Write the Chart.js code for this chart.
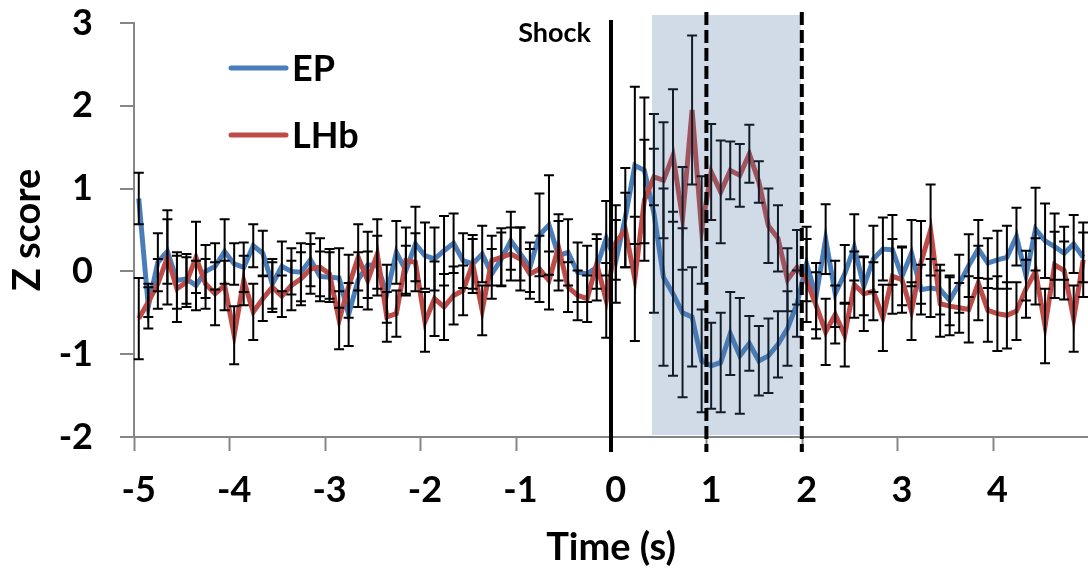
<!DOCTYPE html>
<html lang="en">
<head>
    <meta charset="UTF-8">
    <title>EP and LHb response to shock</title>
    <script src="https://cdn.jsdelivr.net/npm/chart.js"></script>
    <style>
        html, body {
            margin: 0;
            padding: 0;
            background: #ffffff;
        }
        #wrap {
            width: 1088px;
            height: 576px;
        }
    </style>
</head>
<body>
    <div id="wrap"><canvas id="zChart" width="1088" height="576"></canvas></div>

    <script>
        // time of each 100 ms bin (s), shock delivered at 0
        const times = [
            -5.0, -4.9, -4.8, -4.7, -4.6, -4.5, -4.4, -4.3, -4.2, -4.1,
            -4.0, -3.9, -3.8, -3.7, -3.6, -3.5, -3.4, -3.3, -3.2, -3.1,
            -3.0, -2.9, -2.8, -2.7, -2.6, -2.5, -2.4, -2.3, -2.2, -2.1,
            -2.0, -1.9, -1.8, -1.7, -1.6, -1.5, -1.4, -1.3, -1.2, -1.1,
            -1.0, -0.9, -0.8, -0.7, -0.6, -0.5, -0.4, -0.3, -0.2, -0.1,
            0.0, 0.1, 0.2, 0.3, 0.4, 0.5, 0.6, 0.7, 0.8, 0.9,
            1.0, 1.1, 1.2, 1.3, 1.4, 1.5, 1.6, 1.7, 1.8, 1.9,
            2.0, 2.1, 2.2, 2.3, 2.4, 2.5, 2.6, 2.7, 2.8, 2.9,
            3.0, 3.1, 3.2, 3.3, 3.4, 3.5, 3.6, 3.7, 3.8, 3.9,
            4.0, 4.1, 4.2, 4.3, 4.4, 4.5, 4.6, 4.7, 4.8, 4.9
        ];

        // mean z score, EP
        const epZ = [
            0.88, -0.42, 0.11, 0.24, -0.11, -0.09, -0.17, 0.00, 0.06, 0.24,
            0.09, 0.05, 0.31, 0.22, -0.15, 0.06, 0.00, -0.01, 0.14, -0.06,
            -0.07, -0.08, -0.52, -0.10, 0.08, 0.07, -0.27, 0.23, 0.01, 0.33,
            0.19, 0.15, 0.25, 0.34, 0.13, 0.09, 0.21, -0.03, 0.15, 0.37,
            0.21, 0.05, 0.44, 0.56, 0.19, 0.23, -0.01, -0.03, 0.05, 0.40,
            0.12, 0.65, 1.28, 1.22, 0.70, -0.07, -0.27, -0.50, -0.55, -1.08,
            -1.14, -1.10, -0.75, -1.02, -0.87, -1.08, -1.02, -0.88, -0.69, -0.39,
            0.09, -0.30, 0.39, -0.27, -0.03, 0.29, -0.18, 0.15, 0.27, 0.26,
            -0.06, 0.22, -0.22, -0.20, -0.22, -0.35, -0.15, 0.07, 0.27, 0.10,
            0.14, 0.17, 0.42, -0.05, 0.51, 0.37, 0.30, 0.22, 0.33, 0.17
        ];

        // mean z score, LHb
        const lhbZ = [
            -0.57, -0.37, -0.15, 0.17, -0.21, -0.13, 0.17, -0.15, -0.27, -0.17,
            -0.77, -0.11, -0.49, -0.33, -0.19, -0.30, -0.17, -0.09, 0.03, 0.05,
            -0.03, -0.59, -0.18, 0.17, -0.11, 0.21, -0.55, -0.51, 0.13, 0.11,
            -0.61, -0.33, -0.43, -0.29, -0.23, 0.09, -0.47, 0.13, 0.17, 0.21,
            0.15, -0.03, 0.03, -0.11, 0.29, -0.19, -0.29, -0.33, 0.09, -0.35,
            0.35, 0.50, -0.09, 0.86, 1.14, 1.10, 1.40, 0.64, 1.95, 0.50,
            1.20, 0.96, 1.22, 1.16, 1.42, 1.08, 0.55, 0.40, -0.10, 0.05,
            -0.11, -0.41, -0.73, -0.52, -0.77, -0.16, -0.27, -0.24, -0.56, -0.06,
            -0.10, -0.48, 0.11, 0.50, -0.39, -0.42, -0.44, -0.46, -0.14, -0.47,
            -0.51, -0.53, -0.48, -0.21, 0.00, -0.66, 0.08, 0.01, -0.57, 0.14
        ];

        // SEM for each bin
        const epErr = [
            0.31, 0.27, 0.35, 0.39, 0.34, 0.30, 0.30, 0.32, 0.28, 0.39,
            0.25, 0.30, 0.26, 0.27, 0.30, 0.30, 0.28, 0.35, 0.32, 0.30,
            0.30, 0.36, 0.38, 0.33, 0.40, 0.36, 0.35, 0.38, 0.30, 0.45,
            0.40, 0.38, 0.42, 0.36, 0.33, 0.30, 0.34, 0.30, 0.32, 0.35,
            0.32, 0.30, 0.50, 0.60, 0.42, 0.40, 0.36, 0.34, 0.40, 0.45,
            0.50, 0.60, 0.95, 0.88, 1.20, 1.07, 0.99, 1.02, 0.60, 0.62,
            0.52, 0.60, 0.50, 0.70, 0.33, 0.42, 0.45, 0.40, 0.45, 0.40,
            0.45, 0.40, 0.42, 0.40, 0.35, 0.40, 0.35, 0.40, 0.38, 0.42,
            0.35, 0.40, 0.30, 0.35, 0.30, 0.30, 0.35, 0.38, 0.35, 0.30,
            0.35, 0.38, 0.35, 0.30, 0.50, 0.45, 0.40, 0.32, 0.35, 0.30
        ];

        const lhbErr = [
            0.49, 0.18, 0.30, 0.57, 0.40, 0.30, 0.43, 0.30, 0.38, 0.30,
            0.35, 0.30, 0.34, 0.27, 0.30, 0.25, 0.30, 0.32, 0.30, 0.35,
            0.30, 0.35, 0.38, 0.40, 0.35, 0.42, 0.30, 0.28, 0.40, 0.35,
            0.36, 0.45, 0.40, 0.35, 0.30, 0.35, 0.30, 0.30, 0.35, 0.32,
            0.38, 0.30, 0.40, 0.35, 0.40, 0.30, 0.30, 0.28, 0.30, 0.45,
            0.45, 0.45, 0.75, 0.73, 0.34, 0.70, 0.80, 0.62, 0.90, 0.65,
            0.58, 0.62, 0.35, 0.38, 0.35, 0.25, 0.45, 0.40, 0.38, 0.45,
            0.50, 0.40, 0.40, 0.35, 0.38, 0.40, 0.45, 0.35, 0.40, 0.45,
            0.40, 0.35, 0.50, 0.55, 0.40, 0.35, 0.30, 0.40, 0.45, 0.38,
            0.45, 0.40, 0.35, 0.35, 0.40, 0.45, 0.40, 0.35, 0.40, 0.45
        ];

        const xTicks = [-5, -4, -3, -2, -1, 0, 1, 2, 3, 4];
        const yTicks = [-2, -1, 0, 1, 2, 3];

        // event markers (s): shock onset and the analysis window edges
        const shockAt = 0;
        const windowMarks = [1, 2];
        const shadeFrom = 0.38;
        const shadeTo = 1.94;

        const binHalf = 0.05;
        const fontFamily = 'Lato, "Open Sans", sans-serif';
        const epColor = '#4a7ebb';
        const lhbColor = '#be4b48';
        const axisGray = '#868686';

        const toPoints = vals => times.map((t, i) => ({ x: t, y: vals[i] }));

        const overlay = {
            id: 'overlay',
            afterDatasetsDraw(chart) {
                const { ctx, scales: { x, y } } = chart;
                ctx.save();
                ctx.strokeStyle = '#000000';
                ctx.lineWidth = 2;
                [[epZ, epErr], [lhbZ, lhbErr]].forEach(([vals, errs]) => {
                    vals.forEach((v, i) => {
                        const px = x.getPixelForValue(times[i]);
                        const top = y.getPixelForValue(v + errs[i]);
                        const bot = y.getPixelForValue(v - errs[i]);
                        ctx.beginPath();
                        ctx.moveTo(px, top);
                        ctx.lineTo(px, bot);
                        ctx.moveTo(px - 5, top);
                        ctx.lineTo(px + 5, top);
                        ctx.moveTo(px - 5, bot);
                        ctx.lineTo(px + 5, bot);
                        ctx.stroke();
                    });
                });
                ctx.restore();
            },
            afterDraw(chart) {
                const { ctx, scales: { x, y } } = chart;
                const yTop = y.getPixelForValue(3);
                const yBottom = y.bottom;
                ctx.save();

                // tick marks on bin edges
                ctx.strokeStyle = axisGray;
                ctx.lineWidth = 2;
                xTicks.forEach(k => {
                    const px = Math.round(x.getPixelForValue(k - binHalf)) + 0.5;
                    ctx.beginPath();
                    ctx.moveTo(px, yBottom);
                    ctx.lineTo(px, yBottom + 14);
                    ctx.stroke();
                });

                // shaded response window
                const sx0 = x.getPixelForValue(shadeFrom);
                const sx1 = x.getPixelForValue(shadeTo);
                ctx.fillStyle = 'rgba(70, 110, 160, 0.25)';
                ctx.fillRect(sx0, yTop - 8, sx1 - sx0, yBottom - 2 - (yTop - 8));

                // shock onset
                const shockX = x.getPixelForValue(shockAt - binHalf);
                ctx.strokeStyle = '#000000';
                ctx.lineWidth = 4;
                ctx.beginPath();
                ctx.moveTo(shockX, yTop - 3);
                ctx.lineTo(shockX, yBottom + 15);
                ctx.stroke();

                ctx.setLineDash([13, 5]);
                windowMarks.forEach(t => {
                    const px = x.getPixelForValue(t - binHalf);
                    ctx.beginPath();
                    ctx.moveTo(px, yTop - 11);
                    ctx.lineTo(px, yBottom + 15);
                    ctx.stroke();
                });
                ctx.setLineDash([]);

                ctx.fillStyle = '#000000';
                ctx.font = 'bold 27px ' + fontFamily;
                ctx.textAlign = 'right';
                ctx.textBaseline = 'middle';
                ctx.fillText('Shock', shockX - 20, yTop + 10);

                // legend
                const legendX = chart.chartArea.left + 97;
                [['EP', epColor, 68], ['LHb', lhbColor, 135]].forEach(([name, color, ly]) => {
                    ctx.strokeStyle = color;
                    ctx.lineWidth = 5;
                    ctx.lineCap = 'round';
                    ctx.beginPath();
                    ctx.moveTo(legendX, ly);
                    ctx.lineTo(legendX + 55, ly);
                    ctx.stroke();
                    ctx.fillStyle = '#000000';
                    ctx.font = 'bold 36px ' + fontFamily;
                    ctx.textAlign = 'left';
                    ctx.fillText(name, legendX + 61, ly + 1);
                });

                ctx.restore();
            }
        };

        const ctx = document.getElementById('zChart').getContext('2d');

        new Chart(ctx, {
            type: 'line',
            data: {
                datasets: [
                    {
                        label: 'EP',
                        data: toPoints(epZ),
                        borderColor: epColor,
                        borderWidth: 5,
                        pointRadius: 0,
                        tension: 0,
                        order: 1
                    },
                    {
                        label: 'LHb',
                        data: toPoints(lhbZ),
                        borderColor: lhbColor,
                        borderWidth: 5,
                        pointRadius: 0,
                        tension: 0,
                        order: 0
                    }
                ]
            },
            options: {
                responsive: false,
                animation: false,
                layout: {
                    padding: { top: 0, right: 0, bottom: 0, left: 0 }
                },
                plugins: {
                    legend: { display: false },
                    tooltip: { enabled: false }
                },
                scales: {
                    x: {
                        type: 'linear',
                        min: -5.05,
                        max: 4.95,
                        afterBuildTicks: axis => {
                            axis.ticks = xTicks.map(v => ({ value: v }));
                        },
                        afterFit: axis => {
                            axis.height = 139;
                        },
                        grid: {
                            drawOnChartArea: false,
                            tickLength: 14,
                            color: 'rgba(0, 0, 0, 0)'
                        },
                        border: { color: axisGray, width: 2 },
                        ticks: {
                            color: '#000000',
                            padding: 18,
                            maxRotation: 0,
                            autoSkip: false,
                            font: { family: fontFamily, size: 36, weight: 'bold' }
                        },
                        title: {
                            display: true,
                            text: 'Time (s)',
                            color: '#000000',
                            padding: { top: 0, bottom: 5 },
                            font: { family: fontFamily, size: 38, weight: 'bold' }
                        }
                    },
                    y: {
                        min: -2,
                        max: 3,
                        afterBuildTicks: axis => {
                            axis.ticks = yTicks.map(v => ({ value: v }));
                        },
                        afterFit: axis => {
                            // fixed plot box: 134 px gutter, top edge 23 px down
                            axis.width = 134;
                            axis.paddingTop = 23;
                            axis.paddingBottom = 0;
                        },
                        grid: {
                            drawOnChartArea: false,
                            tickLength: 14,
                            color: axisGray,
                            lineWidth: 2
                        },
                        border: { color: axisGray, width: 2 },
                        ticks: {
                            color: '#000000',
                            padding: 27,
                            font: { family: fontFamily, size: 36, weight: 'bold' }
                        },
                        title: {
                            display: true,
                            text: 'Z score',
                            color: '#000000',
                            padding: { top: 5, bottom: 0 },
                            font: { family: fontFamily, size: 38, weight: 'bold' }
                        }
                    }
                }
            },
            plugins: [overlay]
        });
    </script>
</body>
</html>
